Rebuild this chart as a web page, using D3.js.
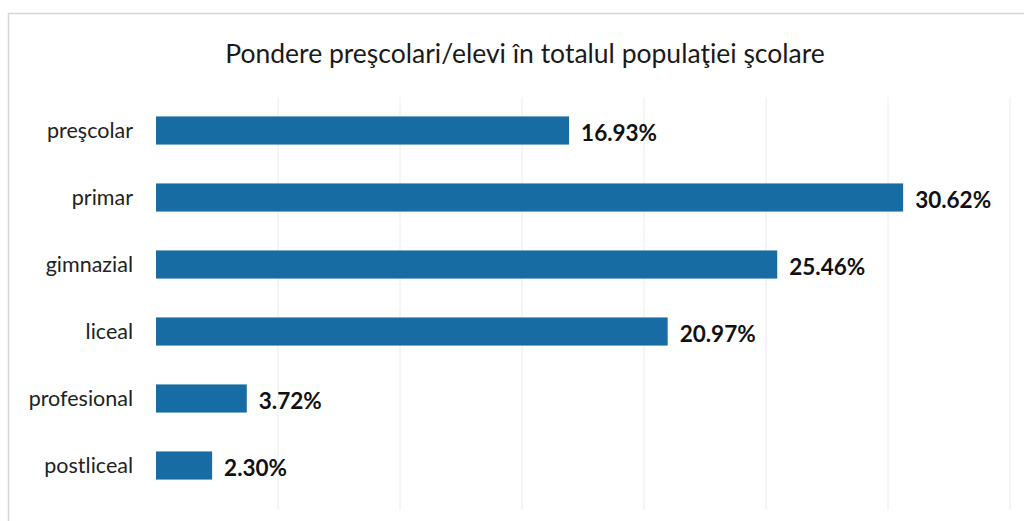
<!DOCTYPE html>
<html><head><meta charset="utf-8">
<script src="https://cdn.jsdelivr.net/npm/d3@7"></script>
<style>body{margin:0;background:#fff}</style>
</head><body>
<svg id="c" width="1024" height="521"></svg>
<script>
const categories = ["preşcolar","primar","gimnazial","liceal","profesional","postliceal"];
const values = [16.93, 30.62, 25.46, 20.97, 3.72, 2.30];
const labels = ["16.93%","30.62%","25.46%","20.97%","3.72%","2.30%"];
const gridTicks = [0,5,10,15,20,25,30,35];
const title = "Pondere preşcolari/elevi în totalul populaţiei şcolare";

const svg = d3.select("#c");
const font = "Lato, 'Open Sans', sans-serif";
svg.append("rect").attr("x",8.5).attr("y",13.5).attr("width",1030).attr("height",520)
  .attr("fill","none").attr("stroke","#d6d6d6").attr("stroke-width",1.5);

const x = d3.scaleLinear().domain([0,35]).range([156,1010]);
const y = d3.scaleBand().domain(categories).range([97,499]).paddingInner(0.58).paddingOuter(0.29);

svg.append("g").selectAll("line").data(gridTicks.slice(1)).join("line")
  .attr("x1",d=>x(d)).attr("x2",d=>x(d)).attr("y1",97).attr("y2",510)
  .attr("stroke","#ececec").attr("stroke-width",1);

svg.append("text").attr("x",525).attr("y",63).attr("text-anchor","middle")
  .attr("font-family",font).attr("font-size",26.5).attr("fill","#1a1a1a").text(title);

svg.append("g").selectAll("rect").data(values).join("rect")
  .attr("x",x(0)).attr("y",(d,i)=>y(categories[i]))
  .attr("width",d=>x(d)-x(0)).attr("height",y.bandwidth())
  .attr("fill","#176ca3");

svg.append("g").selectAll("text").data(categories).join("text")
  .attr("x",133).attr("y",d=>y(d)+y.bandwidth()/2).attr("dy","0.35em")
  .attr("text-anchor","end").attr("font-family",font).attr("font-size",21.5).attr("fill","#222")
  .text(d=>d);

svg.append("g").selectAll("text").data(values).join("text")
  .attr("x",d=>x(d)+12).attr("y",(d,i)=>y(categories[i])+y.bandwidth()/2+3).attr("dy","0.35em")
  .attr("font-family",font).attr("font-size",22.5).attr("font-weight","bold").attr("fill","#111")
  .text((d,i)=>labels[i]);
</script>
</body></html>
